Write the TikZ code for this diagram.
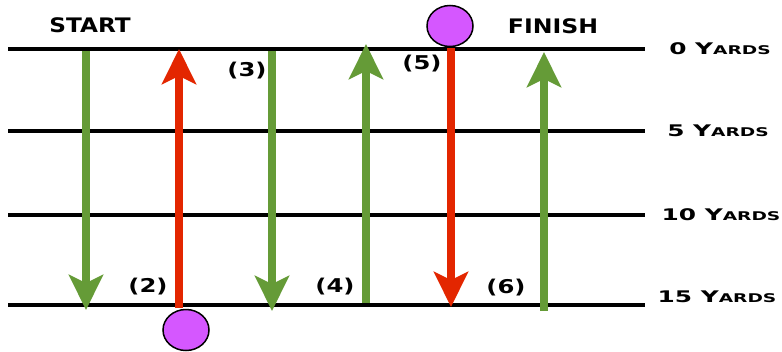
\documentclass[tikz,border=0pt]{standalone}
\usepackage{fontspec}
\usepackage{graphicx}
\usetikzlibrary{arrows.meta,shapes.geometric}
\newfontfamily\cpfont{DejaVu Sans Bold}
\definecolor{grn}{RGB}{101,155,55}
\definecolor{rd}{RGB}{227,38,0}
\definecolor{pur}{RGB}{213,87,255}
\newcommand{\wide}[2][1.25]{\scalebox{#1}[1]{#2}}
\newcommand{\yd}[1]{\wide[1.55]{{\fontsize{16}{16}\selectfont #1 Y}{\fontsize{12}{12}\selectfont ARDS}}}
\tikzset{
  yardline/.style={line width=4.5pt},
  garrow/.style={draw=grn, line width=7.5pt, -{Stealth[length=35pt,width=34pt,inset=8pt]}},
  rarrow/.style={draw=rd, line width=7.5pt, -{Stealth[length=35pt,width=34pt,inset=8pt]}},
  ball/.style={draw=black, line width=1.5pt, fill=pur, ellipse, minimum width=46pt, minimum height=41pt, inner sep=0pt},
  title/.style={font=\cpfont\fontsize{20}{20}\selectfont, inner sep=0pt},
  plabel/.style={font=\cpfont\fontsize{19}{19}\selectfont, inner sep=0pt},
  ylabel/.style={font=\cpfont, inner sep=0pt},
}
\begin{document}
\begin{tikzpicture}[x=1pt,y=-1pt]
\useasboundingbox (0,0) rectangle (782,351);
% yard lines
\foreach \n/\y in {0/49,1/131,2/215,3/305}{
  \coordinate (L\n a) at (8,\y);
  \coordinate (L\n b) at (645,\y);
  \draw[yardline] (L\n a) -- (L\n b);
}
% labels
\node[ylabel] (y0) at (720,49) {\yd{0}};
\node[ylabel] (y5) at (718,131) {\yd{5}};
\node[ylabel] (y10) at (721,215) {\yd{10}};
\node[ylabel] (y15) at (717,297) {\yd{15}};
\node[title] (start) at (90,25) {\wide[1.16]{START}};
\node[title] (finish) at (553,26) {\wide[1.18]{FINISH}};
% arrows
\coordinate (a1s) at (86,51);  \coordinate (a1e) at (86,310);
\coordinate (a2s) at (179,308); \coordinate (a2e) at (179,49);
\coordinate (a3s) at (272,51); \coordinate (a3e) at (272,311);
\coordinate (a4s) at (366,303); \coordinate (a4e) at (366,44);
\coordinate (a5s) at (451,48); \coordinate (a5e) at (451,307);
\coordinate (a6s) at (544,311); \coordinate (a6e) at (544,52);
\draw[garrow] (a1s) -- (a1e);
\draw[rarrow] (a2s) -- (a2e);
\draw[garrow] (a3s) -- (a3e);
\draw[garrow] (a4s) -- (a4e);
\draw[rarrow] (a5s) -- (a5e);
\draw[garrow] (a6s) -- (a6e);
% balls
\node[ball] (b1) at (186,330) {};
\node[ball] (b2) at (450,26) {};
% step labels
\node[plabel] (p2) at (148,287) {\wide[1.28]{(2)}};
\node[plabel] (p3) at (247,71) {\wide[1.28]{(3)}};
\node[plabel] (p4) at (335,287) {\wide[1.28]{(4)}};
\node[plabel] (p5) at (422,64) {\wide[1.28]{(5)}};
\node[plabel] (p6) at (506,288) {\wide[1.28]{(6)}};
\end{tikzpicture}
\end{document}
